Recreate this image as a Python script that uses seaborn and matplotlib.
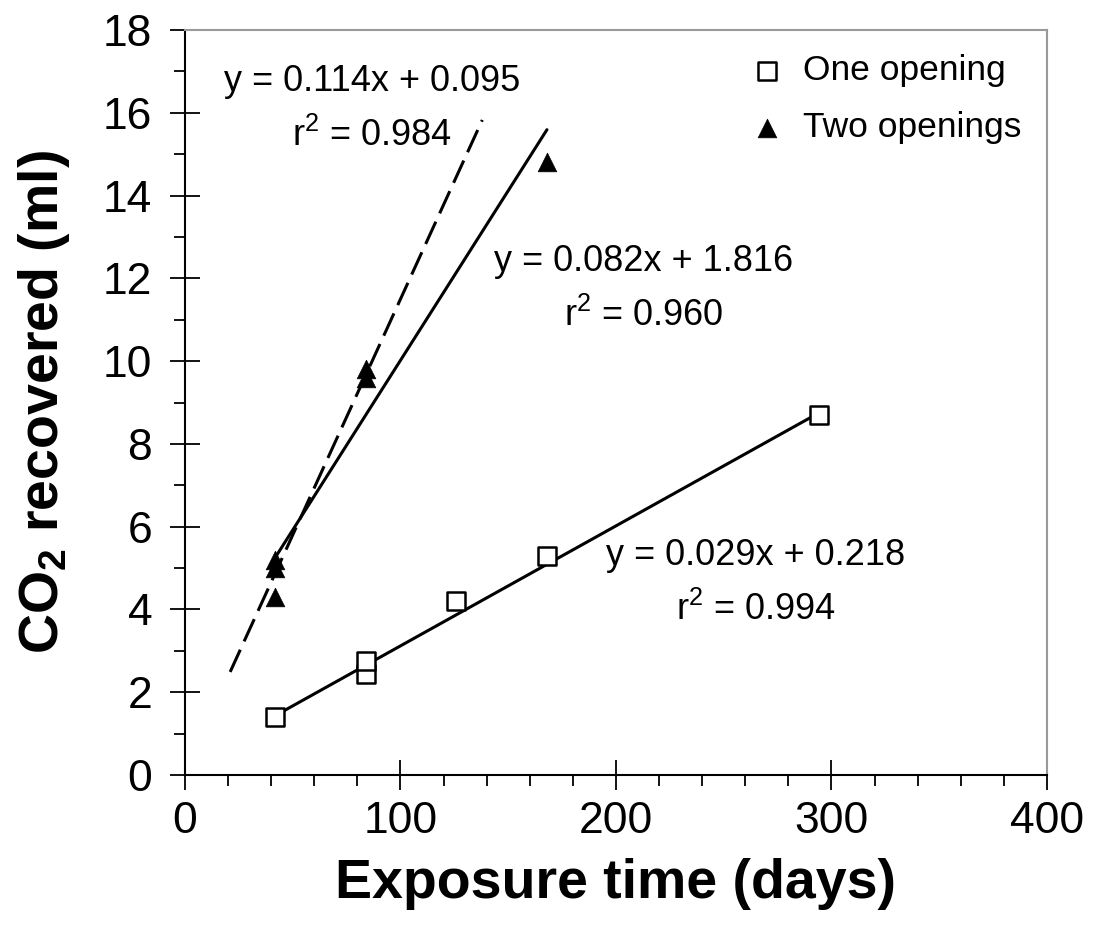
import numpy as np
import pandas as pd
import matplotlib
matplotlib.use("Agg")
import matplotlib.pyplot as plt
import seaborn as sns
from matplotlib.ticker import MultipleLocator

sns.set_style("white")
plt.rcParams['font.family'] = ['Liberation Sans', 'DejaVu Sans']
plt.rcParams['mathtext.fontset'] = 'custom'
plt.rcParams['mathtext.rm'] = 'Liberation Sans'
plt.rcParams['mathtext.bf'] = 'Liberation Sans:bold'
plt.rcParams['mathtext.it'] = 'Liberation Sans:italic'
for k in ['text.color', 'axes.labelcolor', 'xtick.color', 'ytick.color']:
    plt.rcParams[k] = 'black'

# Data
one_x = [42, 84, 84, 126, 168, 294]
one_y = [1.4, 2.45, 2.75, 4.2, 5.3, 8.7]
two_x = [42, 42, 42, 84, 84, 168]
two_y = [4.3, 5.0, 5.2, 9.6, 9.8, 14.8]

# Trend lines (from equations on chart)
fit_slope = [0.029, 0.082, 0.114]
fit_intercept = [0.218, 1.816, 0.095]
fit_xrange = [(42, 294), (42, 168), (21, 138)]
fit_dashed = [False, False, True]

eq_labels = ["y = 0.029x + 0.218", "y = 0.082x + 1.816", "y = 0.114x + 0.095"]
r2_labels = ["r$^2$ = 0.994", "r$^2$ = 0.960", "r$^2$ = 0.984"]
eq_pos = [(265, 5.3), (213, 12.4), (87, 16.75)]
r2_pos = [(265, 4.0), (213, 11.1), (87, 15.45)]

fig = plt.figure(figsize=(10.94, 9.39), dpi=100)
ax = fig.add_axes([0.169, 0.1747, 0.788, 0.7933])

for s, b, (x0, x1), dashed in zip(fit_slope, fit_intercept, fit_xrange, fit_dashed):
    xs = np.array([x0, x1], dtype=float)
    sns.lineplot(x=xs, y=s * xs + b, ax=ax, color="black", lw=2.2, zorder=2)
    if dashed:
        ax.lines[-1].set_linestyle((0, (8, 3)))

sns.scatterplot(x=one_x, y=one_y, ax=ax, marker="s", s=150, facecolor="white",
                edgecolor="black", linewidth=1.8, zorder=3, label="One opening")
sns.scatterplot(x=two_x, y=two_y, ax=ax, marker="^", s=180, color="black",
                edgecolor="black", linewidth=0.5, zorder=3, label="Two openings")

for t, (x, y) in zip(eq_labels, eq_pos):
    ax.text(x, y, t, fontsize=26, ha="center", va="center")
for t, (x, y) in zip(r2_labels, r2_pos):
    ax.text(x, y, t, fontsize=26, ha="center", va="center")

ax.set_xlim(0, 400)
ax.set_ylim(0, 18)
ax.xaxis.set_major_locator(MultipleLocator(100))
ax.xaxis.set_minor_locator(MultipleLocator(20))
ax.yaxis.set_major_locator(MultipleLocator(2))
ax.yaxis.set_minor_locator(MultipleLocator(1))
ax.tick_params(which="major", direction="inout", length=21, width=1.3, labelsize=32,
               bottom=True, left=True, colors="black")
ax.tick_params(axis="x", which="major", pad=8)
ax.tick_params(axis="y", which="major", pad=13)
ax.tick_params(which="minor", direction="out", length=8, width=1.3,
               bottom=True, left=True, colors="black")

for side in ["left", "bottom"]:
    ax.spines[side].set_color("black")
    ax.spines[side].set_linewidth(1.5)
for side in ["top", "right"]:
    ax.spines[side].set_color("#999999")
    ax.spines[side].set_linewidth(1.5)

ax.set_xlabel("Exposure time (days)", fontsize=40, fontweight="bold")
ax.set_ylabel(r"CO$_\mathbf{2}$ recovered (ml)", fontsize=40, fontweight="bold")
ax.xaxis.set_label_coords(0.5, -0.112)
ax.yaxis.set_label_coords(-0.131, 0.5)

leg = ax.legend(loc="upper right", frameon=False, fontsize=25.5, markerscale=1.0,
                handlelength=1.0, handletextpad=0.5, labelspacing=0.67,
                bbox_to_anchor=(1.007, 1.01))

fig.savefig("out.png", dpi=100)
